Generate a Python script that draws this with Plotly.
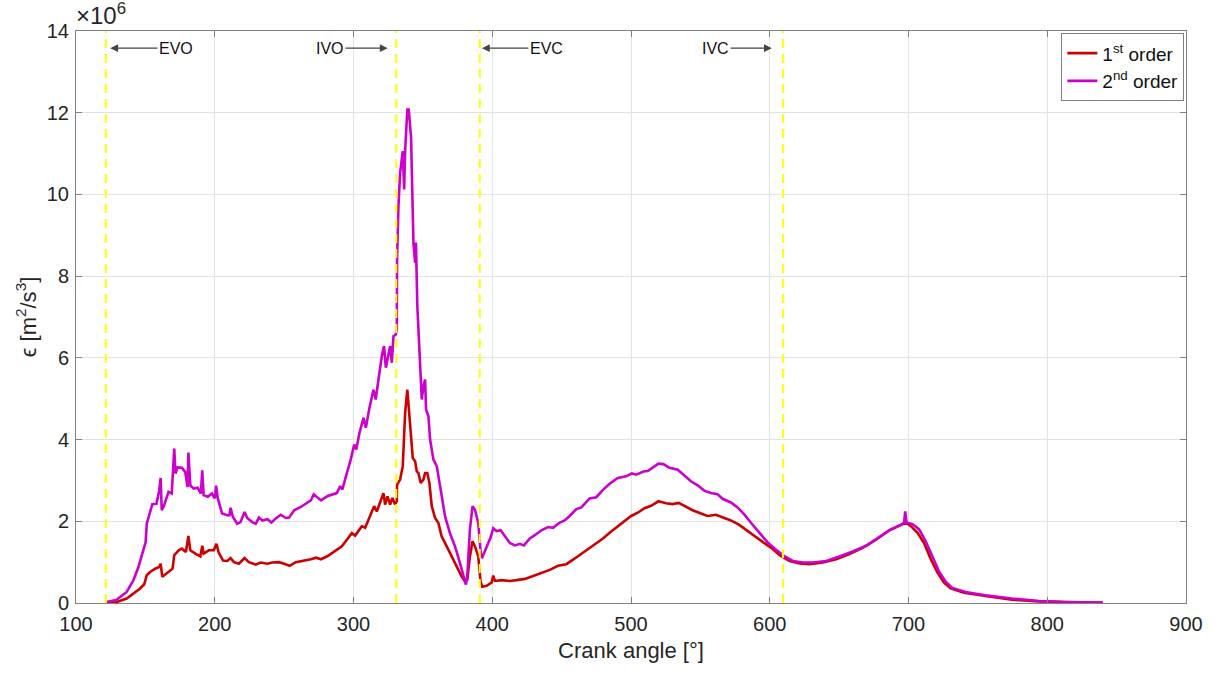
import plotly.graph_objects as go

# Crank angle [deg] and dissipation rate [x10^6 m^2/s^3]
x1 = [121, 129, 136.5, 141.3, 146, 149.2, 151, 153.4, 157, 160, 161, 162.2, 165.5, 169.6, 170.8, 174, 176.3,
      179.2, 181, 182.4, 186, 189.6, 191, 192, 195.7, 199.3, 201.2, 202.9, 206, 209, 211.4, 213.8, 217.4,
      221.5, 224.6, 229.5, 233, 238, 241.5, 246.4, 250, 254, 258.4, 264.5, 269.3, 273, 276.6, 281.4,
      286.8, 291.6, 295.2, 298.8, 301.2, 306, 308.4, 312, 314.9, 316.8, 319.2, 321.6, 322.8, 324.5, 326.4,
      328, 330, 331.2, 331.4, 333.6, 335.5, 337.2, 338.8, 340.3, 341.5, 342.7, 344.4, 345.6, 346.8, 348.4,
      350.4, 351.6, 353.2, 354.7, 356.4, 358.8, 361.2, 363.5, 367.1, 370.7, 374.3, 377.9, 380.3, 382,
      383.9, 385.8, 387.5, 389.9, 391.6, 392.8, 395.9, 399.5, 400.7, 401.9, 406.7, 412.7, 417.5, 423.5,
      429.5, 435.4, 441.4, 447.4, 453.4, 458.2, 464.2, 470.2, 475, 479.8, 484.6, 490.5, 495.3, 500.1,
      504.9, 509.7, 514.5, 519.8, 525.3, 530.1, 534.4, 539.6, 544.4, 550.4, 555.2, 561.2, 566, 572, 578,
      583.9, 589.9, 595.9, 601.9, 607.2, 614.3, 621.5, 628.7, 638.3, 647.8, 657.4, 667, 676.6, 686.1,
      693.3, 698.1, 701.7, 706.5, 711.2, 716, 720.8, 725.6, 730.4, 740, 755.5, 774.6, 793.8, 822.5, 840]
y1 = [0.01, 0.02, 0.11, 0.23, 0.35, 0.46, 0.68, 0.76, 0.84, 0.88, 0.96, 0.64, 0.72, 0.84, 1.17, 1.29, 1.33,
      1.25, 1.64, 1.29, 1.21, 1.14, 1.40, 1.21, 1.29, 1.29, 1.45, 1.23, 1.04, 1.03, 1.10, 1.00, 0.96,
      1.10, 1.00, 0.94, 0.99, 0.96, 0.99, 1.00, 0.96, 0.91, 1.00, 1.03, 1.07, 1.11, 1.07, 1.15,
      1.27, 1.39, 1.55, 1.71, 1.65, 1.88, 1.84, 2.12, 2.37, 2.24, 2.49, 2.69, 2.41, 2.61, 2.41,
      2.57, 2.41, 2.49, 2.90, 3.02, 3.35, 4.65, 5.22, 4.65, 4.08, 3.55, 3.47, 3.22, 3.18, 2.94,
      3.02, 3.18, 3.18, 2.94, 2.37, 2.08, 1.96, 1.63, 1.39, 1.14, 0.90, 0.65, 0.53, 0.57,
      1.14, 1.51, 1.39, 1.14, 0.52, 0.40, 0.42, 0.50, 0.67, 0.54, 0.56, 0.54, 0.56, 0.59,
      0.66, 0.73, 0.81, 0.91, 0.95, 1.06, 1.20, 1.35, 1.47, 1.58, 1.72, 1.88, 2.01, 2.13,
      2.21, 2.32, 2.38, 2.49, 2.44, 2.42, 2.45, 2.36, 2.27, 2.19, 2.13, 2.16, 2.09, 2.02, 1.91,
      1.76, 1.61, 1.47, 1.33, 1.17, 1.03, 0.97, 0.95, 0.99, 1.07, 1.20, 1.35, 1.55, 1.78,
      1.90, 1.97, 1.88, 1.72, 1.47, 1.08, 0.75, 0.50, 0.36, 0.25, 0.17, 0.08, 0.04, 0.01, 0.005]

x2 = [121, 129, 136.5, 141.3, 145, 148.5, 150.2, 151, 153.4, 155, 158, 160, 161, 161.8, 163.5, 166.7, 169,
      170.8, 171.7, 173.2, 176.3, 178.7, 180.4, 181, 182.4, 184.8, 187.7, 190, 191, 192, 195, 198, 200,
      201, 202.2, 205.3, 209, 210.6, 211.4, 213, 216.2, 218.6, 221.5, 223.4, 227, 229.5, 231.9, 234.3,
      238, 240.9, 244, 247.6, 251.2, 253.6, 257.2, 262, 266.9, 269.3, 271.3, 276.6, 281.4,
      288, 290.4, 292, 295.2, 298, 300.5, 302, 304.3, 307.2, 308.9, 311.5, 314.4, 316, 318, 320.4, 322,
      323.3, 324.5, 326.4, 327.6, 328.8, 330.5, 331.2, 331.4, 332.4, 333.6, 334.3, 335.5, 336.5, 337.2,
      338.8, 339.8, 341.5, 342.4, 343.2, 344.4, 345, 346, 346.8, 348, 349.2, 350.4, 351.6, 352.3, 354,
      355.2, 357.6, 360, 362.4, 366, 369.5, 373.1, 376.7, 379.1, 381, 382, 383.9, 385.8, 387.5, 389.9,
      391.9, 392.8, 395.9, 398.8, 400.7, 403.1, 406, 409.1, 412.7, 416.3, 419.9, 422.8, 427.1, 430.7,
      435.4, 440.2, 443.8, 448.6, 452.2, 455.8, 460.6, 464.2, 467.8, 470.2, 475, 479.8, 484.6, 490.5,
      496.5, 500.6, 503.7, 509, 512.1, 516.9, 519.8, 523.4, 527.7, 533.7, 538.4, 543.2, 548, 552.8,
      557.6, 562.4, 566, 572, 576.8, 581.6, 586.3, 592.3, 598.3, 604.3, 610.8, 616.7, 624, 631.1,
      640.7, 650.2, 659.8, 669.4, 679, 687.3, 694.5, 696.9, 697.6, 698.6, 702.9, 707.7, 712.4, 717.2,
      722, 726.8, 731.6, 741.1, 755.5, 774.6, 793.8, 810.5, 822.5, 840]
y2 = [0.02, 0.07, 0.27, 0.55, 0.88, 1.25, 1.49, 1.94, 2.23, 2.42, 2.43, 2.76, 3.06, 2.27, 2.39, 2.72, 2.68,
      3.78, 3.17, 3.32, 3.31, 3.21, 2.84, 3.68, 2.88, 2.80, 2.82, 2.68, 3.25, 2.64, 2.60, 2.68, 2.56,
      2.87, 2.56, 2.19, 2.15, 2.15, 2.33, 2.11, 1.94, 1.98, 2.23, 2.08, 1.98, 1.94, 2.09, 2.02,
      2.05, 1.97, 2.07, 2.16, 2.08, 2.09, 2.27, 2.35, 2.46, 2.51, 2.66, 2.51, 2.62,
      2.69, 2.86, 2.78, 3.18, 3.51, 3.88, 3.76, 4.16, 4.53, 4.29, 4.78, 5.22, 4.98, 5.47, 6.04, 6.29,
      5.76, 5.96, 6.29, 5.88, 6.53, 6.57, 6.69, 8.41, 9.71, 10.53, 10.73, 11.06, 10.12, 11.06,
      12.08, 12.08, 11.39, 9.96, 8.82, 8.33, 8.82, 7.27, 6.69, 5.88, 4.98, 5.31, 5.47, 4.73, 4.57,
      4.00, 3.51, 3.35, 2.86, 2.12, 1.71, 1.39, 0.98, 0.65, 0.45, 0.65, 1.80, 2.37, 2.29, 1.96,
      1.14, 1.12, 1.35, 1.60, 1.83, 1.76, 1.78, 1.64, 1.47, 1.41, 1.45, 1.41, 1.58, 1.66,
      1.78, 1.86, 1.84, 1.97, 2.02, 2.13, 2.30, 2.34, 2.46, 2.56, 2.59, 2.77, 2.92, 3.06,
      3.10, 3.17, 3.14, 3.22, 3.23, 3.33, 3.41, 3.40, 3.31, 3.26, 3.12, 2.98, 2.88, 2.75,
      2.69, 2.66, 2.55, 2.46, 2.34, 2.17, 1.97, 1.72, 1.49, 1.31, 1.14, 1.03, 0.99, 0.99,
      1.03, 1.14, 1.26, 1.40, 1.61, 1.80, 1.91, 1.97, 2.24, 1.97, 1.93, 1.80, 1.51, 1.14,
      0.77, 0.52, 0.37, 0.27, 0.19, 0.11, 0.05, 0.025, 0.015, 0.008]

events = ["EVO", "IVO", "EVC", "IVC"]
event_x = [121.5, 330.8, 391, 609.5]
label_x = [172, 283, 439, 561]
label_y = [13.58, 13.58, 13.58, 13.58]
head_x = [124.7, 324.6, 392.6, 601.5]

xticks = [100, 200, 300, 400, 500, 600, 700, 800, 900]
yticks = [0, 2, 4, 6, 8, 10, 12, 14]

FONT = "Liberation Sans, Arial, Helvetica, sans-serif"
TXT = "#262626"

fig = go.Figure()
fig.add_trace(go.Scatter(x=x1, y=y1, mode="lines", name="1<sup>st</sup> order",
                         line=dict(color="#CC0000", width=2.6)))
fig.add_trace(go.Scatter(x=x2, y=y2, mode="lines", name="2<sup>nd</sup> order",
                         line=dict(color="#CC00CC", width=2.6)))
for ex in event_x:
    fig.add_trace(go.Scatter(x=[ex, ex], y=[0, 14], mode="lines", showlegend=False,
                             hoverinfo="skip",
                             line=dict(color="#FFFF00", width=2, dash="9px,6px")))

for name, lx, ly, hx in zip(events, label_x, label_y, head_x):
    fig.add_annotation(x=hx, y=ly, ax=lx, ay=ly, xref="x", yref="y", axref="x", ayref="y",
                       text=name, showarrow=True, arrowhead=2, arrowsize=1.3, arrowwidth=1.2,
                       arrowcolor="#444444", standoff=0, startstandoff=0,
                       font=dict(family=FONT, size=16, color="#111111"))

fig.add_annotation(x=0, y=1, xref="paper", yref="paper", xanchor="left", yanchor="bottom",
                   text="×10<sup>6</sup>", showarrow=False, yshift=0, xshift=-2,
                   font=dict(family=FONT, size=24, color=TXT))

axis_common = dict(showline=True, linecolor="#808080", linewidth=1, mirror="ticks",
                   ticks="inside", ticklen=6, tickcolor="#808080",
                   showgrid=True, gridcolor="#E3E3E3", gridwidth=1, zeroline=False,
                   tickfont=dict(family=FONT, size=20, color=TXT))

fig.update_layout(
    width=1215, height=677,
    margin=dict(l=75.5, r=22, t=31, b=74),
    paper_bgcolor="white", plot_bgcolor="white",
    font=dict(family=FONT, color=TXT),
    xaxis=dict(range=[100, 900], tickvals=xticks, ticklabelstandoff=3,
               title=dict(text="Crank angle [°]", font=dict(family=FONT, size=22, color=TXT), standoff=8),
               **axis_common),
    yaxis=dict(range=[0, 14], tickvals=yticks, ticklabelstandoff=2,
               title=dict(text="ϵ [m<sup>2</sup>/s<sup>3</sup>]", font=dict(family=FONT, size=22, color=TXT), standoff=4),
               **axis_common),
    legend=dict(x=0.9985, y=0.996, xanchor="right", yanchor="top", bgcolor="white",
                bordercolor="#808080", borderwidth=1, font=dict(family=FONT, size=19, color="#111111"),
                tracegroupgap=0),
    showlegend=True,
)

fig.write_html("out.html", config={"displayModeBar": False},
               post_script="document.body.style.margin='0';document.body.style.overflow='hidden';")
